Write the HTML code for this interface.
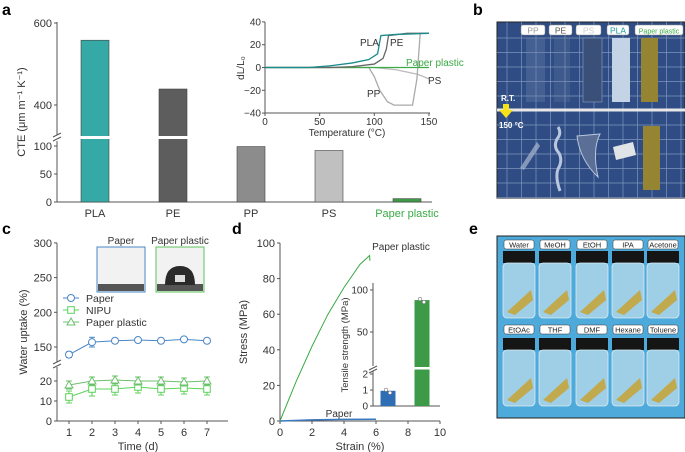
<!DOCTYPE html>
<html><head><meta charset="utf-8"><style>
html,body{margin:0;padding:0;background:#fff}
svg{display:block;font-family:"Liberation Sans",sans-serif}
</style></head><body>
<svg id="fig" width="685" height="452" viewBox="0 0 685 452" xmlns="http://www.w3.org/2000/svg">
<g font-weight="bold" font-size="16" fill="#000">
<text x="2" y="15">a</text>
<text x="473" y="15">b</text>
<text x="2" y="234">c</text>
<text x="232" y="234">d</text>
<text x="469" y="234">e</text>
</g>
<g id="pa"></g>
<g id="pa-inset"></g>
<g id="pb"></g>
<g id="pc"></g>
<g id="pd"></g>
<g id="pe"></g>
</svg>
<script>
// ---- data ----
const cteCats=["PLA","PE","PP","PS","Paper plastic"];
const cteVals=[558,439,99,92,6];
const cteTicksLow=[0,50,100];
const cteTicksHigh=[400,600];
const insetTicksX=[0,50,100,150];
const insetTicksY=[-40,-20,0,20,40];
const plaT=[0,40,60,80,95,103,106,120,150];
const plaV=[0,0,1.5,4,7,12,28,29,30];
const peT=[0,60,80,100,108,111,113,130,150];
const peV=[0,0,0.8,3,8,16,28,30,30];
const ppT=[0,95,100,105,112,118,135,139,142,150];
const ppV=[0,0,-8,-20,-30,-33,-33,-10,30,30];
const psT=[0,100,120,140,150];
const psV=[0,0,-2,-6,-10];
const paperPlasticT=[0,150];
const paperPlasticV=[0,0];
const days=[1,2,3,4,5,6,7];
const uptakePaper=[139,157,159,160,159,161,159];
const uptakePaperErr=[4,7,2,2,2,2,2];
const uptakeNipu=[12,16,16,17,16,16.5,16];
const uptakeNipuErr=[3,3.5,3,3,3,3,3];
const uptakePP=[18,20,20.5,20,20,19.5,20];
const uptakePPErr=[2,2,2,2,2,2,2];
const upTicksLow=[0,10,20];
const upTicksHigh=[150,200,250,300];
const strainPP=[0,1,2,3,4,5,5.6,5.62];
const stressPP=[0,22,42,60,75,88,93,90];
const strainPaper=[0,2,4,6];
const stressPaper=[0,0.6,0.9,1];
const stressTicks=[0,20,40,60,80,100];
const strainTicks=[0,2,4,6,8,10];
const tsCats=["Paper","Paper plastic"];
const tsVals=[0.95,88];

const NS="http://www.w3.org/2000/svg";
function el(parent,tag,attrs,txt){const e=document.createElementNS(NS,tag);for(const k in attrs)e.setAttribute(k,attrs[k]);if(txt!==undefined)e.textContent=txt;parent.appendChild(e);return e;}
const AX="#555";

// ===== Panel a =====
(function(){
const g=document.getElementById('pa');
const yA=v=>v>=300?105-(v-400)*0.41:202-v*0.56;
const x0=57;
el(g,'line',{x1:x0,y1:22,x2:x0,y2:135,stroke:AX});
el(g,'line',{x1:x0,y1:141,x2:x0,y2:202,stroke:AX});
el(g,'line',{x1:x0,y1:202,x2:432,y2:202,stroke:AX});
el(g,'line',{x1:53,y1:137,x2:61,y2:133,stroke:AX});
el(g,'line',{x1:53,y1:141,x2:61,y2:137,stroke:AX});
[...cteTicksLow,...cteTicksHigh].forEach(t=>{
 const y=yA(t);
 el(g,'line',{x1:x0-3,y1:y,x2:x0,y2:y,stroke:AX});
 const tx=el(g,'text',{x:x0-5,y:y+4,'font-size':11,'text-anchor':'end',fill:'#333'},t);
 
 
});
const yl=el(g,'text',{transform:'translate(25,112) rotate(-90)','font-size':11,'text-anchor':'middle',fill:'#333'},'CTE (μm m⁻¹ K⁻¹)');


const fills=["#35a9a6","#5d5d5d","#8c8c8c","#c0c0c0","#3d9a47"];
cteCats.forEach((c,i)=>{
 const cx=95+i*78, y=yA(cteVals[i]);
 const r=el(g,'rect',{x:cx-14,y:y,width:28,height:202-y,fill:fills[i],stroke:'#444','stroke-width':0.6});
 
 
 if(cteVals[i]>300) el(g,'rect',{x:cx-15,y:136,width:30,height:3,fill:'#fff'});
 const t=el(g,'text',{x:cx,y:217,'font-size':11,'text-anchor':'middle',fill:i==4?'#3aaa45':'#333'},c);
 
 
});
})();

// ===== Panel a inset =====
(function(){
const g=document.getElementById('pa-inset');
const xs=t=>265+t*1.093, ys=v=>67.5-v*1.14;
el(g,'line',{x1:265,y1:22,x2:265,y2:113,stroke:AX});
el(g,'line',{x1:265,y1:113,x2:430,y2:113,stroke:AX});
insetTicksY.forEach(t=>{const y=ys(t);el(g,'line',{x1:262,y1:y,x2:265,y2:y,stroke:AX});
 const tx=el(g,'text',{x:261,y:y+3.5,'font-size':10,'text-anchor':'end',fill:'#333'},t<0?'−'+(-t):t);
 });
insetTicksX.forEach(t=>{const x=xs(t);el(g,'line',{x1:x,y1:113,x2:x,y2:116,stroke:AX});
 const tx=el(g,'text',{x:x,y:125,'font-size':10,'text-anchor':'middle',fill:'#333'},t);
 });
const xt=el(g,'text',{x:xs(75),y:136,'font-size':10,'text-anchor':'middle',fill:'#333'},'Temperature (°C)');

const yt=el(g,'text',{transform:'translate(244,68) rotate(-90)','font-size':10,'text-anchor':'middle',fill:'#333'},'dL/L₀');

const line=(T,V,c,n)=>{const p=el(g,'polyline',{points:T.map((t,i)=>xs(t)+','+ys(V[i])).join(' '),fill:'none',stroke:c,'stroke-width':1.3});
 };
line(psT,psV,'#bbb','line-ps');line(ppT,ppV,'#aaa','line-pp');
line(paperPlasticT,paperPlasticV,'#3daa48','line-paper-plastic');
line(peT,peV,'#666','line-pe');line(plaT,plaV,'#1a8c8c','line-pla');
[['PLA',360,46,'#333'],['PE',390,46,'#333'],['PP',367,97,'#333'],['PS',428,84,'#333'],['Paper plastic',406,66,'#3aaa45']].forEach(a=>{
 const t=el(g,'text',{x:a[1],y:a[2],'font-size':10,fill:a[3]},a[0]);
 });
})();

// ===== Panel b photo =====
(function(){
const g=document.getElementById('pb');
el(g,'rect',{x:497,y:22,width:188,height:176,fill:'#2f4d84',stroke:'#222'});
for(let x=507;x<685;x+=14.5) el(g,'line',{x1:x,y1:22,x2:x,y2:198,stroke:'#7f95bd','stroke-width':0.7});
for(let y=38;y<198;y+=14.5) el(g,'line',{x1:497,y1:y,x2:685,y2:y,stroke:'#7f95bd','stroke-width':0.7});
el(g,'rect',{x:497,y:108.5,width:188,height:3,fill:'#e8e8e8'});
[['PP',521,24,'#999'],['PE',549,23,'#555'],['PS',576,25,'#ccc'],['PLA',607,22,'#1a9a9a'],['Paper plastic',635,48,'#3aaa45']].forEach(a=>{
 el(g,'rect',{x:a[1],y:25,width:a[2],height:10,rx:2,fill:'#fff',stroke:'#888','stroke-width':0.5});
 const t=el(g,'text',{x:a[1]+a[2]/2,y:33.5,'font-size':a[0].length>4?7:8.5,'text-anchor':'middle',fill:a[3]},a[0]);
 });
el(g,'rect',{x:526,y:38,width:19,height:64,fill:'#6d82a8',opacity:0.35});
el(g,'rect',{x:554,y:38,width:16,height:64,fill:'#6d82a8',opacity:0.25});
el(g,'rect',{x:583,y:38,width:19,height:64,fill:'#3a5078',stroke:'#8aa0c4','stroke-width':0.6});
el(g,'rect',{x:612,y:38,width:18,height:64,fill:'#c5d3e6'});
el(g,'rect',{x:641,y:38,width:17,height:64,fill:'#958532'});
el(g,'rect',{x:643,y:126,width:17,height:64,fill:'#958532'});
el(g,'path',{d:'M520 168 L537 142 L540 146 L524 170 Z',fill:'#a9b8d2',opacity:0.7});
el(g,'path',{d:'M558 127 q4 6 -1 12 q-4 8 2 14 q4 8 -1 16 q-3 8 2 22',fill:'none',stroke:'#b8c6de','stroke-width':3});
el(g,'path',{d:'M577 136 L600 134 Q592 150 598 177 Q580 160 577 136 Z',fill:'#5a6e96',stroke:'#b8c6de','stroke-width':1});
el(g,'path',{d:'M613 147 L633 142 L636 155 L616 160 Z',fill:'#e0e4e6'});
el(g,'text',{x:501,y:101,'font-size':8,'font-weight':'bold',fill:'#fff'},'R.T.');
el(g,'path',{d:'M503 104 h6 v6 h4 l-7 8 l-7 -8 h4 z',fill:'#f5e21a'});
el(g,'text',{x:499,y:128,'font-size':8,'font-weight':'bold',fill:'#fff'},'150 °C');
})();

// ===== Panel c =====
(function(){
const g=document.getElementById('pc');
const yU=v=>v>=100?347-(v-150)*0.694:421-v*2;
const xU=d=>69+(d-1)*23;
el(g,'line',{x1:57,y1:243,x2:57,y2:362,stroke:AX});
el(g,'line',{x1:57,y1:367,x2:57,y2:421,stroke:AX});
el(g,'line',{x1:53,y1:364,x2:61,y2:360,stroke:AX});el(g,'line',{x1:53,y1:368,x2:61,y2:364,stroke:AX});
el(g,'line',{x1:57,y1:421,x2:228,y2:421,stroke:AX});
[...upTicksLow,...upTicksHigh].forEach(t=>{const y=yU(t);el(g,'line',{x1:54,y1:y,x2:57,y2:y,stroke:AX});
 const tx=el(g,'text',{x:52,y:y+4,'font-size':11,'text-anchor':'end',fill:'#333'},t);
 });
days.forEach(d=>{const x=xU(d);el(g,'line',{x1:x,y1:421,x2:x,y2:424,stroke:AX});
 const tx=el(g,'text',{x:x,y:436,'font-size':11,'text-anchor':'middle',fill:'#333'},d);
 });
const xt=el(g,'text',{x:138,y:450,'font-size':11,'text-anchor':'middle',fill:'#333'},'Time (d)');

const yt=el(g,'text',{transform:'translate(27,332) rotate(-90)','font-size':11,'text-anchor':'middle',fill:'#333'},'Water uptake (%)');

function series(vals,errs,color,mk,name){
 const pts=vals.map((v,i)=>[xU(days[i]),yU(v)]);
 const p=el(g,'polyline',{points:pts.map(q=>q.join(',')).join(' '),fill:'none',stroke:color,'stroke-width':1});
 
 vals.forEach((v,i)=>{const x=pts[i][0],y1=yU(v+errs[i]),y2=yU(v-errs[i]);
  el(g,'line',{x1:x,y1:y1,x2:x,y2:y2,stroke:color});el(g,'line',{x1:x-3,y1:y1,x2:x+3,y2:y1,stroke:color});el(g,'line',{x1:x-3,y1:y2,x2:x+3,y2:y2,stroke:color});
  drawMk(x,pts[i][1],color,mk,name);});
}
function drawMk(x,y,color,mk,name){let m;
 if(mk=='o')m=el(g,'circle',{cx:x,cy:y,r:3.5,fill:'#fff',stroke:color});
 else if(mk=='s')m=el(g,'rect',{x:x-3.3,y:y-3.3,width:6.6,height:6.6,fill:'#fff',stroke:color});
 else m=el(g,'path',{d:`M${x} ${y-4} L${x+4} ${y+3} L${x-4} ${y+3} Z`,fill:'#fff',stroke:color});
 }
series(uptakePaper,uptakePaperErr,'#4a86c6','o','paper');
series(uptakeNipu,uptakeNipuErr,'#5bd35b','s','nipu');
series(uptakePP,uptakePPErr,'#6cc06c','t','paper-plastic');
[['Paper','#4a86c6','o',298],['NIPU','#5bd35b','s',310],['Paper plastic','#6cc06c','t',322]].forEach(a=>{
 el(g,'line',{x1:63,y1:a[3],x2:79,y2:a[3],stroke:a[1]});drawMk(71,a[3],a[1],a[2],'legend');
 const t=el(g,'text',{x:86,y:a[3]+4,'font-size':10.5,fill:'#333'},a[0]);
 });
// contact angle images
el(g,'text',{x:121,y:244,'font-size':10,'text-anchor':'middle',fill:'#333'},'Paper');
el(g,'text',{x:180,y:244,'font-size':10,'text-anchor':'middle',fill:'#333'},'Paper plastic');
el(g,'rect',{x:97,y:247,width:48,height:45,fill:'#f2f2f2',stroke:'#4a86c6'});
el(g,'rect',{x:98,y:284,width:46,height:7,fill:'#555'});
el(g,'rect',{x:156,y:247,width:48,height:45,fill:'#f2f2f2',stroke:'#5bc35b'});
el(g,'rect',{x:157,y:284,width:46,height:7,fill:'#555'});
el(g,'path',{d:'M165 285 Q165 266 180 266 Q195 266 195 285 Z',fill:'#2a2a2a'});
el(g,'rect',{x:175,y:275,width:10,height:7,fill:'#ddd'});
})();

// ===== Panel d =====
(function(){
const g=document.getElementById('pd');
const xS=v=>280+v*16, yS=v=>421-v*1.78;
el(g,'line',{x1:280,y1:243,x2:280,y2:421,stroke:AX});
el(g,'line',{x1:280,y1:421,x2:440,y2:421,stroke:AX});
stressTicks.forEach(t=>{const y=yS(t);el(g,'line',{x1:277,y1:y,x2:280,y2:y,stroke:AX});
 const tx=el(g,'text',{x:275,y:y+4,'font-size':11,'text-anchor':'end',fill:'#333'},t);
 });
strainTicks.forEach(t=>{const x=xS(t);el(g,'line',{x1:x,y1:421,x2:x,y2:424,stroke:AX});
 const tx=el(g,'text',{x:x,y:436,'font-size':11,'text-anchor':'middle',fill:'#333'},t);
 });
const xt=el(g,'text',{x:360,y:450,'font-size':11,'text-anchor':'middle',fill:'#333'},'Strain (%)');

const yt=el(g,'text',{transform:'translate(247,332) rotate(-90)','font-size':11,'text-anchor':'middle',fill:'#333'},'Stress (MPa)');

const l1=el(g,'polyline',{points:strainPP.map((s,i)=>xS(s)+','+yS(stressPP[i])).join(' '),fill:'none',stroke:'#3aaa45','stroke-width':1});

const l2=el(g,'polyline',{points:strainPaper.map((s,i)=>xS(s)+','+yS(stressPaper[i])).join(' '),fill:'none',stroke:'#3a78c0','stroke-width':1.5});

el(g,'text',{x:401,y:250,'font-size':10,'text-anchor':'middle',fill:'#333'},'Paper plastic');
el(g,'text',{x:339,y:417,'font-size':10,'text-anchor':'middle',fill:'#333'},'Paper');
// inset
const yT=v=>v>7?290-(v-100)*0.84:406-v*16;
el(g,'line',{x1:373,y1:283,x2:373,y2:366,stroke:AX});
el(g,'line',{x1:373,y1:371,x2:373,y2:406,stroke:AX});
el(g,'line',{x1:369,y1:370,x2:377,y2:366,stroke:AX});el(g,'line',{x1:369,y1:373,x2:377,y2:369,stroke:AX});
el(g,'line',{x1:373,y1:406,x2:440,y2:406,stroke:AX});
[0,1,2,50,100].forEach(t=>{const y=yT(t);el(g,'line',{x1:370,y1:y,x2:373,y2:y,stroke:AX});
 const tx=el(g,'text',{x:368,y:y+3.5,'font-size':10,'text-anchor':'end',fill:'#333'},t);
 });
const it=el(g,'text',{transform:'translate(348,345) rotate(-90)','font-size':9.5,'text-anchor':'middle',fill:'#333'},'Tensile strength (MPa)');

const cols=['#2f6db5','#3d9a47'];
tsCats.forEach((c,i)=>{const cx=388+i*34,y=yT(tsVals[i]);
 const r=el(g,'rect',{x:cx-7.5,y:y,width:15,height:406-y,fill:cols[i]});
 
 if(tsVals[i]>7) el(g,'rect',{x:cx-8,y:367,width:16,height:2.5,fill:'#fff'});
 el(g,'circle',{cx:cx-2,cy:y-1,r:1.8,fill:'#fff',stroke:'#555','stroke-width':0.5});
 el(g,'circle',{cx:cx+2,cy:y+2,r:1.8,fill:'#fff',stroke:'#555','stroke-width':0.5});});
})();

// ===== Panel e photo =====
(function(){
const g=document.getElementById('pe');
el(g,'rect',{x:497,y:236,width:188,height:182,fill:'#4eaadb',stroke:'#222'});
const labels=[["Water","MeOH","EtOH","IPA","Acetone"],["EtOAc","THF","DMF","Hexane","Toluene"]];
const cx=[519,555,592,628,663];
labels.forEach((row,r)=>{
 const ly=r?325:240, cy=r?338:251, by=r?350:263, bh=r?56:55;
 row.forEach((lab,i)=>{
  el(g,'rect',{x:cx[i]-15,y:ly,width:30,height:9,rx:2,fill:'#fff',stroke:'#333','stroke-width':0.5});
  const t=el(g,'text',{x:cx[i],y:ly+7.5,'font-size':7.5,'text-anchor':'middle',fill:'#222'},lab);
  
  el(g,'rect',{x:cx[i]-16,y:cy,width:32,height:12,fill:'#151515'});
  el(g,'rect',{x:cx[i]-16,y:by,width:32,height:bh,rx:4,fill:'#9fcfe6',stroke:'#d8ecf5','stroke-width':0.8});
  el(g,'path',{d:`M${cx[i]-12} ${by+bh-6} L${cx[i]+12} ${by+bh-28} L${cx[i]+14} ${by+bh-18} L${cx[i]-4} ${by+bh-3} Z`,fill:'#c4a43c',opacity:0.9});
 });
});
})();
</script>
</body></html>
